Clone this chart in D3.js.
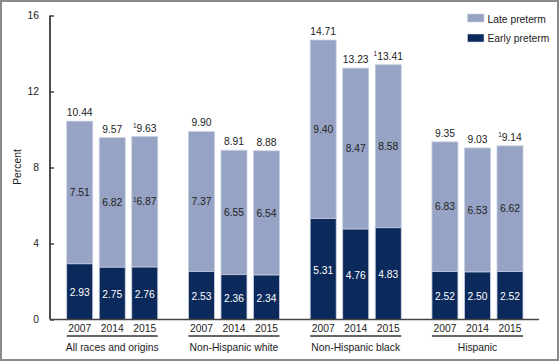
<!DOCTYPE html>
<html><head><meta charset="utf-8">
<script src="https://cdn.jsdelivr.net/npm/d3@7"></script>
<style>
body{margin:0;background:#fff;}
text{font-family:"Liberation Sans",Arial,sans-serif;}
</style></head>
<body><svg id="c" width="560" height="362"></svg>
<script>
const groups = ["All races and origins","Non-Hispanic white","Non-Hispanic black","Hispanic"];
const years = ["2007","2014","2015"];
const early = [[2.93,2.75,2.76],[2.53,2.36,2.34],[5.31,4.76,4.83],[2.52,2.50,2.52]];
const late  = [[7.51,6.82,6.87],[7.37,6.55,6.54],[9.40,8.47,8.58],[6.83,6.53,6.62]];
const total = [[10.44,9.57,9.63],[9.90,8.91,8.88],[14.71,13.23,13.41],[9.35,9.03,9.14]];
const noteTotal = [[false,false,true],[false,false,false],[false,false,true],[false,false,true]];
const noteLate  = [[false,false,true],[false,false,false],[false,false,false],[false,false,false]];
const yTicks = [0,4,8,12,16];
const legendLabels = ["Late preterm","Early preterm"];

const lightC = "#97a3c4", darkC = "#0b2a5b";
const fs = "10.3px";
const svg = d3.select("#c");

svg.append("rect").attr("x",1).attr("y",1).attr("width",557).attr("height",359)
  .attr("fill","#fff").attr("stroke","#8a8a8a").attr("stroke-width",2);

const y = d3.scaleLinear().domain([0,16]).range([319.5,15.5]);
const xg = d3.scaleBand().domain(groups).range([66.7,523]).paddingInner(0.252).paddingOuter(0);
const xy = d3.scaleBand().domain(years).range([0,xg.bandwidth()]).paddingInner(0.2).paddingOuter(0);

// y axis
const yAxis = d3.axisLeft(y).tickValues(yTicks).tickSize(-4).tickPadding(11).tickFormat(d3.format("d"));
const ga = svg.append("g").attr("transform","translate(50,0)").call(yAxis);
ga.select(".domain").attr("stroke","#222").attr("stroke-width",1.6).attr("d","M0,15.5V319.5");
ga.selectAll(".tick line").attr("stroke","#222").attr("stroke-width",1.3);
ga.selectAll(".tick text").attr("font-size",fs).attr("fill","#222").attr("font-family","Liberation Sans, Arial, sans-serif");

svg.append("text").attr("transform","translate(21,167) rotate(-90)")
  .attr("text-anchor","middle").attr("font-size",fs).attr("fill","#222").text("Percent");

groups.forEach((g,gi)=>{
  const gx = xg(g);
  years.forEach((yr,i)=>{
    const x0 = gx + xy(yr), w = xy.bandwidth();
    const e = early[gi][i], t = total[gi][i], l = late[gi][i];
    svg.append("rect").attr("x",x0).attr("width",w).attr("y",y(t)).attr("height",y(e)-y(t))
      .attr("fill",lightC).attr("stroke","#c9d0e2").attr("stroke-width",0.8);
    svg.append("rect").attr("x",x0).attr("width",w).attr("y",y(e)).attr("height",y(0)-y(e))
      .attr("fill",darkC).attr("stroke","#c9d0e2").attr("stroke-width",0.8);
    const cx = x0 + w/2;
    const addLabel = (yy,val,note,color)=>{
      const tx = svg.append("text").attr("x",cx).attr("y",yy).attr("text-anchor","middle")
        .attr("font-size",fs).attr("fill",color);
      if(note){
        tx.append("tspan").attr("font-size","6.5px").attr("dy",-3.5).text("1");
        tx.append("tspan").attr("dy",3.5).text(val.toFixed(2));
      } else tx.text(val.toFixed(2));
    };
    addLabel(y(t)-5, t, noteTotal[gi][i], "#222");
    addLabel((y(t)+y(e))/2+3.7, l, noteLate[gi][i], "#222");
    addLabel((y(e)+y(0))/2+4.5, e, false, "#fff");
    svg.append("text").attr("x",cx).attr("y",332).attr("text-anchor","middle")
      .attr("font-size",fs).attr("fill","#222").text(yr);
  });
  svg.append("line").attr("x1",gx).attr("x2",gx+xg.bandwidth()).attr("y1",336).attr("y2",336)
    .attr("stroke","#333").attr("stroke-width",1.3);
  svg.append("text").attr("x",gx+xg.bandwidth()/2).attr("y",350.5).attr("text-anchor","middle")
    .attr("font-size",fs).attr("fill","#222").text(g);
});

// x baseline
svg.append("line").attr("x1",50).attr("x2",539).attr("y1",y(0)).attr("y2",y(0))
  .attr("stroke","#444").attr("stroke-width",1.5);

// legend
const lg = svg.append("g");
legendLabels.forEach((lab,i)=>{
  lg.append("rect").attr("x",467.5).attr("y",14+i*20).attr("width",16.5).attr("height",8)
    .attr("fill",i===0?lightC:darkC).attr("stroke","#c9d0e2").attr("stroke-width",0.6);
  lg.append("text").attr("x",487.5).attr("y",22.5+i*19.5).attr("font-size",fs).attr("fill","#222").text(lab);
});
</script></body></html>
